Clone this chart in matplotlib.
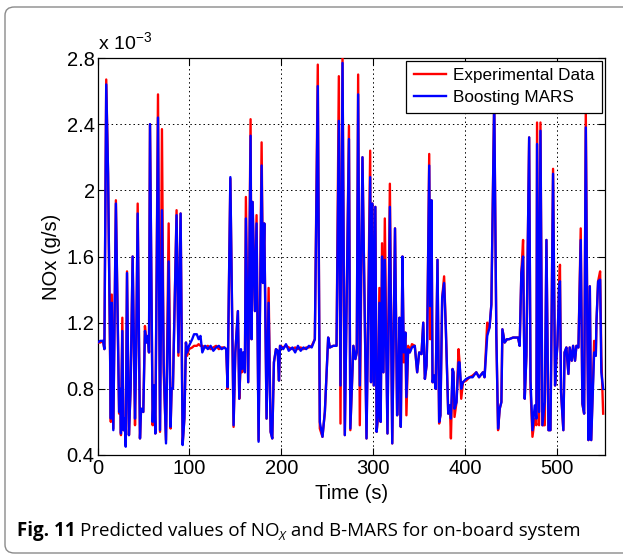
import matplotlib
matplotlib.use("Agg")
import matplotlib.pyplot as plt
from matplotlib.patches import FancyBboxPatch
from matplotlib.ticker import FuncFormatter

# ---- data (NOx in units of 1e-3 g/s) ----
time = [0, 3, 6, 7.5, 9.5, 11.5, 14.5, 15.5, 17.2, 20, 23.5, 24.5, 25.5, 27, 28.2, 29.5, 30.7, 32.1,
        34.2, 36, 38.2, 40.8, 42, 43.7, 46.2, 47.4, 49.8, 51.6, 53.4, 55, 56, 57.1, 60, 61.5, 62.9,
        65.8, 68, 70.1, 72, 74.5, 77.4, 79.5, 80.6, 82, 86, 88, 90.4, 92.6, 94.5, 96.2, 97.5, 99.5,
        103, 105, 108, 110,
        112, 114, 117, 120, 123, 126, 129, 132, 135, 138, 140, 141.5, 144.5, 148, 149.9, 152.7, 154.2,
        156, 157, 158.5, 160.3, 161.4, 163.9, 166.5, 167.6, 168.7, 171.2, 173, 175.2, 178.5, 179.9,
        181.4, 183.9, 186.1, 188.3, 190.1, 191.9, 194.1, 196, 197.4, 198.5, 202, 205, 208,
        212, 215, 218, 221, 224, 227, 230, 233, 236.4, 239.6, 241.8, 244.7, 247.3, 250.9, 252.7, 256.4,
        260, 262.5, 264.3, 266.5, 269, 273.5, 275, 278.3, 280.5, 282, 283.5, 285.3, 288.2, 292.6, 296.6,
        297.5, 299, 300.5, 302.2, 303.6, 305, 306.6, 308, 309.5, 311, 312.5, 315.4, 318, 320.6, 323.6,
        325.9, 327.5, 328.5, 329.9,
        331.7, 333.1, 334.9, 336, 337.9, 339.7, 342, 345.1, 347.7, 349.9, 352.4, 354.3, 356.1, 357.9,
        358.6, 360.8, 361.9, 363.3, 364.4, 366.2, 367.8, 369.8, 371.6, 373, 374.9, 377, 378.9, 381.5,
        383.3, 384.4, 386.2, 387.2, 388.3, 390.5, 392.7, 393.8, 395.6, 397.5, 401, 404.7, 408, 412, 415,
        419.2, 421, 423.9, 426.4, 428.4, 431.5, 433.8, 435.7, 437.5, 439.3, 440.4, 442.9, 445.4, 447.6,
        452, 457.4, 459.2, 461, 462.9, 464.7, 466.5, 469.5, 471, 473.1, 475.6, 477.4, 478.1, 480.3,
        481.8, 483.9, 486.5, 488.3, 490.5, 492.7, 495.5, 497.7, 499, 500.2, 502, 503, 504.2, 506.7, 508,
        510, 512.2, 513.6, 515.8, 517.3, 519.4, 520.9, 523.1, 525.6, 527.4, 529.3, 531.1, 532.9, 534,
        535.5, 537, 540.2, 542, 542.7, 544.5, 546.7, 548, 550]

experimental = [1.08, 1.08, 1.09, 1.04, 2.67, 2.1, 0.6, 1.37, 0.56, 1.94, 0.65, 0.8, 0.52, 1.23, 0.55, 0.62, 0.46, 1.51,
                0.52, 0.8, 1.6, 0.58, 1.0, 1.92, 0.5, 0.68, 0.66, 1.18, 1.08, 1.12, 1.02, 2.4, 0.58, 0.82, 0.53,
                2.58, 0.54, 2.37, 0.9, 0.49, 1.8, 0.56, 0.8, 0.8, 1.88, 1.0, 1.86, 0.47, 0.62, 1.08, 1.0, 1.04,
                1.05, 1.06, 1.06, 1.07,
                1.06, 1.06, 1.05, 1.06, 1.04, 1.05, 1.06, 1.04, 1.05, 1.05, 1.04, 0.8, 2.07, 0.57, 1.02, 1.27, 0.74,
                1.0, 0.9, 1.02, 0.9, 1.96, 0.84, 2.43, 1.1, 1.93, 1.27, 1.85, 0.49, 2.29, 1.44,
                1.8, 0.62, 1.41, 0.54, 0.5, 0.96, 1.04, 1.03, 0.85, 1.06, 1.05, 1.06, 1.05,
                1.04, 1.05, 1.04, 1.05, 1.04, 1.05, 1.05, 1.06, 1.1, 2.76, 0.56, 0.51, 0.66, 1.11, 1.05, 1.06,
                1.06, 2.69, 0.59, 2.8, 0.52, 2.39, 0.55, 1.06, 0.98, 1.02, 2.7, 0.58, 2.2, 0.5, 2.24,
                0.84, 1.92, 0.82, 1.9, 0.54, 0.62, 1.41, 0.6, 1.68, 0.9, 1.83, 0.53, 2.04, 0.47, 1.77,
                0.64, 0.9, 1.23, 0.57,
                1.6, 0.96, 1.14, 0.64, 1.06, 1.02, 1.07, 1.06, 0.9, 1.02, 1.01, 1.2, 0.86, 0.94,
                1.1, 2.22, 1.1, 1.94, 0.84, 0.88, 0.8, 1.58, 0.59, 0.64, 1.35, 1.48, 1.16, 0.65,
                0.7, 0.5, 0.92, 0.9, 0.63, 0.72, 1.04, 0.96, 0.74, 0.84, 0.85, 0.87, 0.88, 0.9, 0.87,
                0.9, 0.87, 1.2, 1.17, 1.31, 2.56, 1.13, 0.55, 0.68, 0.72, 1.16, 1.08, 1.1, 1.1,
                1.11, 1.11, 1.06, 1.5, 1.7, 0.74, 1.0, 2.32, 0.8, 0.51, 0.62, 0.58, 2.41, 0.58,
                2.41, 0.58, 0.58, 1.7, 0.55, 0.55, 2.13, 0.82, 0.97, 1.06, 1.41, 1.55, 0.78, 0.55, 1.02,
                1.05, 0.89, 1.05, 0.97, 1.06, 0.97, 1.06, 1.05, 1.77, 0.71, 0.65, 2.48, 1.08, 0.49,
                1.42, 0.49, 1.09, 1.0, 1.2, 1.45, 1.51, 1.0, 0.65]

boosting_mars = [1.08, 1.09, 1.09, 1.04, 2.64, 2.1, 0.62, 1.32, 0.55, 1.92, 0.66, 0.8, 0.53, 1.15, 0.55, 0.62, 0.45, 1.5,
                 0.52, 0.8, 1.6, 0.62, 1.0, 1.86, 0.5, 0.68, 0.66, 1.15, 1.08, 1.12, 1.02, 2.4, 0.6, 0.82, 0.53,
                 2.44, 0.55, 1.88, 0.95, 0.47, 1.57, 0.57, 0.8, 0.8, 1.85, 1.02, 1.86, 0.46, 0.62, 1.08, 1.02, 1.06,
                 1.1, 1.13, 1.13, 1.1,
                 1.12, 1.02, 1.06, 1.04, 1.06, 1.03, 1.05, 1.06, 1.04, 1.05, 1.04, 0.81, 2.08, 0.58, 1.02, 1.27, 0.74,
                 1.04, 0.92, 1.02, 0.9, 1.83, 0.84, 2.33, 1.1, 1.93, 1.27, 1.8, 0.48, 2.15, 1.44,
                 1.8, 0.62, 1.32, 0.54, 0.5, 0.96, 1.04, 1.03, 0.85, 1.06, 1.04, 1.07, 1.03,
                 1.05, 1.02, 1.06, 1.03, 1.05, 1.04, 1.06, 1.05, 1.1, 2.63, 0.6, 0.51, 0.66, 1.11, 1.05, 1.06,
                 1.06, 2.42, 0.82, 2.77, 0.52, 2.31, 0.56, 1.06, 0.98, 1.02, 2.58, 0.82, 2.2, 0.5, 2.08,
                 0.84, 1.92, 0.82, 1.9, 0.54, 0.64, 1.32, 0.6, 1.6, 0.9, 1.58, 0.53, 1.9, 0.47, 1.77,
                 0.64, 0.92, 1.23, 0.57,
                 1.6, 1.02, 1.14, 0.75, 1.04, 1.02, 1.05, 1.06, 0.9, 1.02, 1.01, 1.2, 0.86, 0.94,
                 1.1, 2.15, 1.3, 1.94, 0.84, 0.88, 0.8, 1.58, 0.6, 0.64, 1.35, 1.44, 1.16, 0.65,
                 0.7, 0.62, 0.92, 0.9, 0.68, 0.72, 0.96, 0.96, 0.8, 0.84, 0.86, 0.87, 0.87, 0.9, 0.87,
                 0.9, 0.87, 1.12, 1.17, 1.31, 2.55, 1.13, 0.56, 0.68, 0.72, 1.16, 1.08, 1.1, 1.1,
                 1.11, 1.11, 1.06, 1.5, 1.6, 0.74, 1.0, 2.32, 0.85, 0.55, 0.7, 0.62, 2.28, 0.66,
                 2.36, 0.58, 0.72, 1.7, 0.55, 0.55, 2.1, 0.82, 0.97, 1.06, 1.41, 1.45, 0.78, 0.55, 1.02,
                 1.05, 0.89, 1.05, 0.97, 1.06, 0.97, 1.06, 1.05, 1.7, 0.71, 0.65, 2.38, 1.08, 0.49,
                 1.42, 0.49, 1.02, 1.0, 1.2, 1.45, 1.46, 0.9, 0.8]

x_ticks = [0, 100, 200, 300, 400, 500]
y_ticks = [0.4, 0.8, 1.2, 1.6, 2.0, 2.4, 2.8]
series_labels = ["Experimental Data", "Boosting MARS"]

plt.rcParams['font.family'] = ['Liberation Sans', 'DejaVu Sans']

W, H = 623, 557
fig = plt.figure(figsize=(W / 100, H / 100), dpi=100)

# rounded frame
frame = FancyBboxPatch((5 / W, 4 / H), 700 / W, 546 / H,
                       boxstyle="round,pad=0,rounding_size=0.015",
                       transform=fig.transFigure, facecolor='none',
                       edgecolor='#8a8a8a', linewidth=1.0, zorder=-5)
fig.patches.append(frame)

ax = fig.add_axes([97.5 / W, 1 - 455 / H, (605 - 97.5) / W, (455 - 58) / H])
ax.plot(time, experimental, color=(1, 0, 0), lw=1.7, label=series_labels[0], zorder=3)
ax.plot(time, boosting_mars, color=(0, 0, 1), lw=1.7, label=series_labels[1], zorder=4)

ax.set_xlim(0, 552)
ax.set_ylim(0.4, 2.8)
ax.set_xticks(x_ticks)
ax.set_yticks(y_ticks)
ax.yaxis.set_major_formatter(FuncFormatter(lambda v, p: "%g" % round(v, 2)))
ax.tick_params(direction='in', top=True, right=True, labelsize=14.5, length=5, width=0.8)
ax.tick_params(axis='x', pad=3)
ax.tick_params(axis='y', pad=2)
ax.grid(True, color='black', linestyle=(0, (1.5, 3)), linewidth=0.7)
for s in ax.spines.values():
    s.set_linewidth(0.9)

ax.set_xlabel("Time (s)", fontsize=14.5, labelpad=4)
ax.set_ylabel("NOx (g/s)", fontsize=14.5, labelpad=4)
fig.text(98 / W, 1 - 50 / H, r"x 10$^{\mathregular{-3}}$", fontsize=14, ha='left', va='baseline')

leg = ax.legend(loc='upper right', fontsize=12.3, frameon=True, fancybox=False,
                edgecolor='black', borderaxespad=0.15, handlelength=1.9,
                labelspacing=0.4, borderpad=0.45, handletextpad=0.4)
leg.get_frame().set_linewidth(0.9)
leg.get_frame().set_alpha(1)

# caption with mixed styles
cap_font = ['Open Sans', 'DejaVu Sans']
fig.canvas.draw()
renderer = fig.canvas.get_renderer()
x = 17 / W
yb = 1 - 536 / H
fs = 13.5
t1 = fig.text(x, yb, "Fig. 11", fontsize=fs, fontweight='bold', family=cap_font, va='baseline')
x += t1.get_window_extent(renderer).width / W + 4 / W
t2 = fig.text(x, yb, "Predicted values of NO", fontsize=fs, family=cap_font, va='baseline')
x += t2.get_window_extent(renderer).width / W
t3 = fig.text(x, yb - 4 / H, "X", fontsize=9, family=cap_font, style='italic', va='baseline')
x += t3.get_window_extent(renderer).width / W + 1 / W
fig.text(x, yb, " and B-MARS for on-board system", fontsize=fs, family=cap_font, va='baseline')

fig.savefig("out.png", dpi=100)
